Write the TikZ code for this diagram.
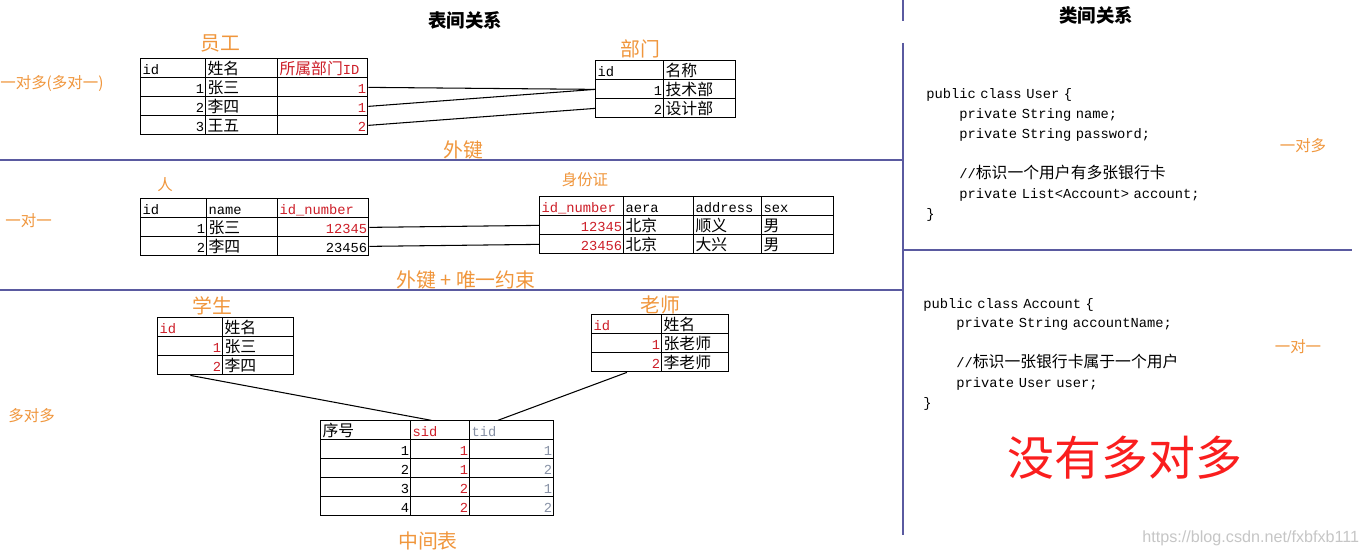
\documentclass[tikz,border=0pt]{standalone}
\usepackage{fontspec}
\setmainfont{Noto Sans CJK SC}
\setmonofont{Liberation Mono}[Scale=0.87]
\newfontfamily\cjk{Noto Sans CJK SC}
\newfontfamily\urlfont{Liberation Sans}
\usetikzlibrary{matrix,calc}
\definecolor{keyred}{RGB}{205,30,40}
\definecolor{tagorange}{RGB}{240,150,60}
\definecolor{rulecol}{RGB}{90,90,160}
\definecolor{tidgray}{RGB}{135,145,165}
\newcommand{\zh}[1]{{\cjk #1}}
\newcommand{\ind}{\hspace*{18.8pt}}

\begin{document}
\begin{tikzpicture}[x=0.02cm, y=-0.02cm,
  tbl/.style={matrix of nodes, anchor=north west, inner sep=0pt,
    column sep=-0.6pt, row sep=-0.6pt,
    nodes={draw, line width=0.6pt, minimum height=0.38cm, inner xsep=1pt, inner ysep=0pt,
      text height=8.4pt, text depth=1.2pt,
      align=left, font=\ttfamily\fontsize{9}{10}\selectfont},
    row 1/.style={nodes={align=left}}},
  tag/.style={text=tagorange, font=\fontsize{11.3}{12}\selectfont},
  smalltag/.style={text=tagorange, font=\fontsize{8.8}{10}\selectfont},
  heading/.style={font=\bfseries\fontsize{10.5}{12}\selectfont},
  code/.style={anchor=base west, inner sep=0pt, text width=9cm, align=left,
    font=\ttfamily\fontsize{9}{11.34}\selectfont},
  link/.style={line width=0.6pt},
  rule/.style={rulecol, line width=0.8pt}]

  \fill[white] (0,0) rectangle (1362,557);
  \useasboundingbox (0,0) rectangle (1362,557);

  \draw[rule] (0,160) -- (903,160);
  \draw[rule] (0,290) -- (903,290);
  \draw[rule] (903,0) -- (903,21);
  \draw[rule] (903,43) -- (903,535);
  \draw[rule] (903,250) -- (1352,250);

  \node[heading] (left-title) at (465,20) {表间关系};
  \node[heading] (right-title) at (1096,15) {类间关系};

  % one to many
  \node[tag] (emp-name) at (220,43) {员工};
  \node[tag] (dept-name) at (640,49) {部门};
  \node[smalltag, anchor=west, inner sep=0pt] (one-many) at (0,84) {一对多(多对一)};

  \matrix (emp) [tbl,
    column 1/.style={nodes={text width=1.30cm-2pt, align=right}},
    column 2/.style={nodes={text width=1.44cm-2pt}},
    column 3/.style={nodes={text width=1.80cm-2pt, align=right, text=keyred}}] at (140,58) {
    id & \zh{姓名} & \zh{所属部门}ID \\
    1 & \zh{张三} & 1 \\
    2 & \zh{李四} & 1 \\
    3 & \zh{王五} & 2 \\
  };

  \matrix (dept) [tbl,
    column 1/.style={nodes={text width=1.36cm-2pt, align=right}},
    column 2/.style={nodes={text width=1.44cm-2pt}}] at (595,60) {
    id & \zh{名称} \\
    1 & \zh{技术部} \\
    2 & \zh{设计部} \\
  };

  \draw[link] (emp-2-3.east) -- (dept-2-1.west);
  \draw[link] (emp-3-3.east) -- (dept-2-1.west);
  \draw[link] (emp-4-3.east) -- (dept-3-1.west);
  \node[tag] (fk) at (463,150) {外键};

  % one to one
  \node[smalltag] (per-name) at (165,185) {人};
  \node[smalltag] (card-name) at (585,180) {身份证};
  \node[smalltag, anchor=west, inner sep=0pt] (one-one) at (5,221) {一对一};

  \matrix (per) [tbl,
    column 1/.style={nodes={text width=1.32cm-2pt, align=right}},
    column 2/.style={nodes={text width=1.42cm-2pt}},
    column 3/.style={nodes={text width=1.82cm-2pt, align=right, text=keyred}}] at (140,198) {
    id & name & id\_number \\
    1 & \zh{张三} & 12345 \\
    2 & \zh{李四} & |[text=black]| 23456 \\
  };

  \matrix (card) [tbl,
    column 1/.style={nodes={text width=1.68cm-2pt, align=right, text=keyred}},
    column 2/.style={nodes={text width=1.40cm-2pt}},
    column 3/.style={nodes={text width=1.36cm-2pt}},
    column 4/.style={nodes={text width=1.44cm-2pt}}] at (539,196) {
    id\_number & aera & address & sex \\
    12345 & \zh{北京} & \zh{顺义} & \zh{男} \\
    23456 & \zh{北京} & \zh{大兴} & \zh{男} \\
  };

  \draw[link] (per-2-3.east) -- (card-2-1.west);
  \draw[link] (per-3-3.east) -- (card-3-1.west);
  \node[tag] (fk-unique) at (466,280) {外键 + 唯一约束};

  % many to many
  \node[tag] (stu-name) at (212,306) {学生};
  \node[tag] (tea-name) at (660,305) {老师};
  \node[smalltag, anchor=west, inner sep=0pt] (many-many) at (8,416) {多对多};

  \matrix (stu) [tbl,
    column 1/.style={nodes={text width=1.30cm-2pt, align=right, text=keyred}},
    column 2/.style={nodes={text width=1.42cm-2pt}}] at (157,317) {
    id & \zh{姓名} \\
    1 & \zh{张三} \\
    2 & \zh{李四} \\
  };

  \matrix (tea) [tbl,
    column 1/.style={nodes={text width=1.40cm-2pt, align=right, text=keyred}},
    column 2/.style={nodes={text width=1.34cm-2pt}}] at (591,314) {
    id & \zh{姓名} \\
    1 & \zh{张老师} \\
    2 & \zh{李老师} \\
  };

  \matrix (mid) [tbl,
    column 1/.style={nodes={text width=1.80cm-2pt, align=right}},
    column 2/.style={nodes={text width=1.18cm-2pt, align=right, text=keyred}},
    column 3/.style={nodes={text width=1.68cm-2pt, align=right, text=tidgray}}] at (320,420) {
    \zh{序号} & sid & tid \\
    1 & 1 & 1 \\
    2 & 1 & 2 \\
    3 & 2 & 1 \\
    4 & 2 & 2 \\
  };

  \draw[link] (stu-3-1.south) -- ([xshift=-0.18cm]mid-1-2.north);
  \draw[link] (tea-3-1.south) -- ([xshift=-0.28cm]mid-1-3.north);
  \node[tag] (mid-name) at (428,541) {中间表};

  % classes
  \node[code] (user-code) at (926,99) {public class User \{\\
    \ind private String name;\\
    \ind private String password;\\[11.34pt]
    \ind //\zh{标识一个用户有多张银行卡}\\
    \ind private List<Account> account;\\
    \}};
  \node[smalltag] (user-tag) at (1303,146) {一对多};

  \node[code] (account-code) at (923,308) {public class Account \{\\
    \ind private String accountName;\\[11.34pt]
    \ind //\zh{标识一张银行卡属于一个用户}\\
    \ind private User user;\\
    \}};
  \node[smalltag] (account-tag) at (1298,347) {一对一};

  \node[text={rgb,255:red,250;green,30;blue,30}, font=\fontsize{26.7}{30}\selectfont] (no-mm) at (1125,458) {没有多对多};
  \node[anchor=west, inner sep=0pt, text=gray!45, font=\urlfont\fontsize{9.2}{10}\selectfont] (mark) at (1142,538) {https://blog.csdn.net/fxbfxb111};
\end{tikzpicture}
\end{document}
